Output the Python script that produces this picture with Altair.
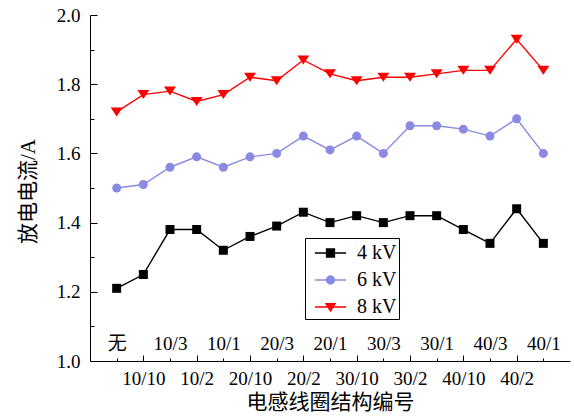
import json
import altair as alt
import pandas as pd

categories = ["无", "10/10", "10/3", "10/2", "10/1", "20/10", "20/3", "20/2", "20/1",
              "30/10", "30/3", "30/2", "30/1", "40/10", "40/3", "40/2", "40/1"]
kv4 = [1.21, 1.25, 1.38, 1.38, 1.32, 1.36, 1.39, 1.43, 1.40, 1.42, 1.40, 1.42, 1.42, 1.38, 1.34, 1.44, 1.34]
kv6 = [1.50, 1.51, 1.56, 1.59, 1.56, 1.59, 1.60, 1.65, 1.61, 1.65, 1.60, 1.68, 1.68, 1.67, 1.65, 1.70, 1.60]
kv8 = [1.72, 1.77, 1.78, 1.75, 1.77, 1.82, 1.81, 1.87, 1.83, 1.81, 1.82, 1.82, 1.83, 1.84, 1.84, 1.93, 1.84]
series_names = ["4 kV", "6 kV", "8 kV"]
series_colors = ["#000000", "#8a8ae3", "#ff0000"]
y_major = [1.0, 1.2, 1.4, 1.6, 1.8, 2.0]
y_minor = [1.0, 1.1, 1.2, 1.3, 1.4, 1.5, 1.6, 1.7, 1.8, 1.9, 2.0]

rows = []
for name, vals in zip(series_names, [kv4, kv6, kv8]):
    for c, v in zip(categories, vals):
        rows.append({"cat": c, "series": name, "value": v})
df = pd.DataFrame(rows)

FONT = "Liberation Serif, Noto Sans CJK SC"
W, H = 480, 346
cats_js = json.dumps(categories, ensure_ascii=False)
odd = f"indexof({cats_js}, datum.value) % 2 == 1"
even = f"indexof({cats_js}, datum.value) % 2 == 0"

xscale = alt.Scale(type="point", domain=categories, padding=1)
yscale = alt.Scale(domain=[1.0, 2.0], nice=False, zero=False)

ax_main = alt.Axis(orient="bottom", labelExpr=f"{odd} ? datum.label : ''", ticks=False, tickSize=0,
                   domain=True, domainColor="black", domainWidth=1, labelPadding=17,
                   labelBaseline="middle", labelAngle=0, labelFont=FONT, labelFontSize=19,
                   labelColor="black", labelOverlap=False, grid=False,
                   title="电感线圈结构编号", titleFont=FONT, titleFontSize=21, titleFontWeight="normal",
                   titleColor="black", titleX=W / 2, titleY=41, titleBaseline="middle", titleAlign="center")
ax_upper = alt.Axis(orient="bottom", offset=-18, labelExpr=f"{even} ? datum.label : ''", ticks=False,
                    tickSize=0, domain=False, labelPadding=0, labelBaseline="middle", labelAngle=0,
                    labelFont=FONT, labelFontSize=19, labelColor="black", labelOverlap=False,
                    grid=False, title="")
ax_xticks = alt.Axis(orient="top", offset=-H, labels=False, domain=False, ticks=True, tickColor="black",
                     tickWidth=1, tickSize={"condition": {"test": odd, "value": 6}, "value": 3},
                     grid=False, title="")
ay_main = alt.Axis(orient="left", values=y_major, format=".1f", ticks=False, tickSize=0, labelPadding=10,
                   domain=True, domainColor="black", domainWidth=1, labelFont=FONT, labelFontSize=19,
                   labelColor="black", grid=False,
                   title="放电电流/A", titleFont=FONT, titleFontSize=21, titleFontWeight="normal",
                   titleColor="black", titleX=-62, titleY=176, titleAngle=270, titleAlign="center",
                   titleBaseline="middle")
ay_ticks = alt.Axis(orient="right", offset=-W, values=y_minor, labels=False, domain=False, ticks=True,
                    tickColor="black", tickWidth=1,
                    tickSize={"condition": {"test": "abs(datum.value*5 - round(datum.value*5)) < 0.001",
                                            "value": 7}, "value": 4},
                    grid=False, title="")


def enc(xaxis=None, yaxis=None):
    xa = xaxis if xaxis is not None else alt.Axis(labels=False, ticks=False, domain=False, title="", grid=False)
    ya = yaxis if yaxis is not None else alt.Axis(labels=False, ticks=False, domain=False, title="", grid=False)
    return dict(x=alt.X("cat:N", scale=xscale, axis=xa),
                y=alt.Y("value:Q", scale=yscale, axis=ya))


tri = "M-1,-0.75H1L0,0.75Z"
point_shapes = ["square", "circle", tri]
point_sizes = [81, 81, 144]
axes_for = [(ax_main, ay_main), (ax_upper, ay_ticks), (ax_xticks, None)]

line_layers, point_layers = [], []
for i, name in enumerate(series_names):
    xa, ya = axes_for[i]
    line_layers.append(
        alt.Chart().mark_line(color=series_colors[i], strokeWidth=1.4)
        .encode(**enc(xa, ya)).transform_filter(alt.datum.series == name)
    )
    point_layers.append(
        alt.Chart().mark_point(shape=point_shapes[i], filled=True, size=point_sizes[i],
                               color=series_colors[i], opacity=1)
        .encode(**enc()).transform_filter(alt.datum.series == name)
    )

legend_paths = [
    "M-1.3,0H1.3M-0.33,-0.33H0.33V0.33H-0.33Z",
    "M-1.3,0H1.3M0.33,0A0.33,0.33 0 1,1 -0.33,0A0.33,0.33 0 1,1 0.33,0Z",
    "M-1.3,0H1.3M-0.375,-0.27H0.375L0,0.33Z",
]
leg = alt.Legend(orient="none", legendX=215, legendY=223, title=None, padding=2,
                 strokeColor="black", fillColor="white", symbolOffset=10.5, labelOffset=13.5,
                 rowPadding=4, labelFont=FONT, labelFontSize=20, labelColor="black",
                 symbolSize=576, symbolStrokeWidth=1.4, symbolOpacity=1,
                 labelExpr="datum.label + '\u2002'")
cscale = alt.Scale(domain=series_names, range=series_colors)
legend_layer = (
    alt.Chart().mark_point(filled=True, opacity=1, strokeWidth=1.4)
    .encode(color=alt.Color("series:N", scale=cscale, legend=leg),
            stroke=alt.Stroke("series:N", scale=cscale, legend=leg),
            shape=alt.Shape("series:N", scale=alt.Scale(domain=series_names, range=legend_paths), legend=leg))
    .transform_filter("false")
)

chart = (
    alt.layer(*line_layers, *point_layers, legend_layer, data=df)
    .resolve_axis(x="independent", y="independent")
    .properties(width=W, height=H, padding={"left": 90, "top": 15, "right": 4, "bottom": 55},
                autosize=alt.AutoSizeParams(type="none"), background="white")
    .configure_view(stroke=None)
)

chart.save("out.html", embed_options={"renderer": "svg", "actions": False})
